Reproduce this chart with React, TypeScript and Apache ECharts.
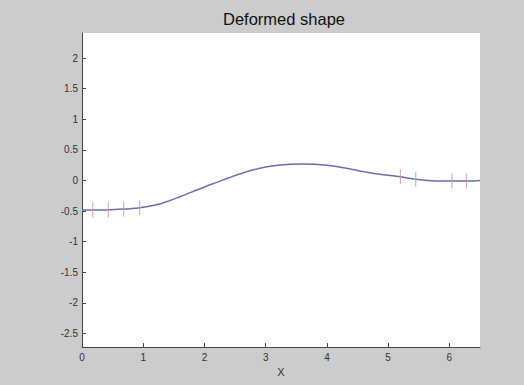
import React, { useEffect, useRef } from "react";
import * as echarts from "echarts";

const xs = [0, 0.2, 0.4, 0.6, 0.8, 0.95, 1.2, 1.4, 1.6, 1.8, 2.0, 2.2, 2.4, 2.6, 2.8, 3.0, 3.2, 3.4, 3.6, 3.8, 4.0, 4.2, 4.4, 4.6, 4.8, 5.0, 5.2, 5.45, 5.7, 6.0, 6.3, 6.5];
const ys = [-0.48, -0.48, -0.48, -0.47, -0.46, -0.445, -0.4, -0.34, -0.265, -0.185, -0.105, -0.03, 0.045, 0.115, 0.175, 0.22, 0.25, 0.265, 0.27, 0.265, 0.25, 0.22, 0.185, 0.145, 0.11, 0.085, 0.06, 0.02, -0.005, -0.01, -0.01, 0];
const nodeX = [0.175, 0.43, 0.68, 0.94, 5.2, 5.45, 6.04, 6.28];
const nodeY = [-0.48, -0.48, -0.47, -0.445, 0.06, 0.02, -0.01, -0.01];
const xTicks = [0, 1, 2, 3, 4, 5, 6];
const yTicks = [-2.5, -2, -1.5, -1, -0.5, 0, 0.5, 1, 1.5, 2];

export default function App() {
  const ref = useRef<HTMLDivElement>(null);
  useEffect(() => {
    const chart = echarts.init(ref.current!, null, { renderer: "svg" });
    const labelStyle = { color: "#333", fontSize: 10, fontFamily: "Liberation Sans, Arial, sans-serif" };
    chart.setOption({
      animation: false,
      backgroundColor: "#cccccc",
      title: {
        text: "Deformed shape",
        left: 279,
        textAlign: "center",
        top: 5,
        textStyle: { fontSize: 16.5, fontWeight: "normal", color: "#111", fontFamily: "Liberation Sans, Arial, sans-serif" },
      },
      grid: { left: 82, right: 44, top: 33, bottom: 38, show: true, backgroundColor: "#ffffff", borderWidth: 0 },
      xAxis: {
        type: "value",
        min: 0,
        max: 6.5,
        name: "X",
        nameLocation: "middle",
        nameGap: 17,
        nameTextStyle: { ...labelStyle, fontSize: 11 },
        axisLine: { show: true, onZero: false, lineStyle: { color: "#444", width: 1 } },
        axisTick: { show: true, inside: true, length: 4, customValues: xTicks, lineStyle: { color: "#444" } },
        axisLabel: { ...labelStyle, margin: 5, customValues: xTicks },
        splitLine: { show: false },
      },
      yAxis: {
        type: "value",
        min: -2.72,
        max: 2.41,
        axisLine: { show: true, onZero: false, lineStyle: { color: "#444", width: 1 } },
        axisTick: { show: true, inside: true, length: 4, customValues: yTicks, lineStyle: { color: "#444" } },
        axisLabel: { ...labelStyle, margin: 4, customValues: yTicks },
        splitLine: { show: false },
      },
      series: [
        {
          type: "line",
          data: xs.map((x, i) => [x, ys[i]]),
          smooth: 0.4,
          showSymbol: false,
          lineStyle: { color: "#6e6eaa", width: 1.5 },
          z: 2,
        },
        {
          type: "scatter",
          data: nodeX.map((x, i) => [x, nodeY[i]]),
          symbol: "rect",
          symbolSize: [1.2, 15],
          itemStyle: { color: "#d99a9a" },
          z: 3,
        },
      ],
    });
    return () => chart.dispose();
  }, []);
  return <div ref={ref} style={{ width: 524, height: 385, position: "absolute", left: 0, top: 0 }} />;
}
